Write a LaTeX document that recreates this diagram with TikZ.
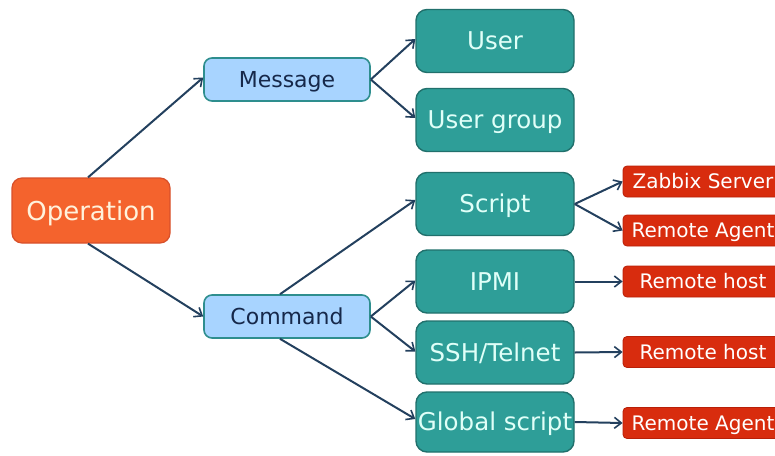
\documentclass[tikz,border=0pt]{standalone}
\usepackage{fontspec}
\setmainfont{DejaVu Sans}
\usetikzlibrary{arrows.meta}
\definecolor{opfill}{HTML}{F4632D}
\definecolor{opdraw}{HTML}{D8502A}
\definecolor{optext}{HTML}{FFF2DC}
\definecolor{bluefill}{HTML}{A8D4FF}
\definecolor{bluedraw}{HTML}{2E8E8E}
\definecolor{bluetext}{HTML}{16284A}
\definecolor{tealfill}{HTML}{2E9E98}
\definecolor{tealdraw}{HTML}{21706C}
\definecolor{tealtext}{HTML}{E0FFF8}
\definecolor{redfill}{HTML}{D82C0E}
\definecolor{reddraw}{HTML}{B82008}
\definecolor{linecol}{HTML}{23405E}
\tikzset{
  opbox/.style={text height=19pt, text depth=0pt, draw=opdraw, fill=opfill, line width=1.2pt, rounded corners=10pt, minimum width=158pt, minimum height=65pt, inner sep=0pt, text=optext, font=\fontsize{26}{30}\selectfont},
  bluebox/.style={text height=16pt, text depth=0pt, draw=bluedraw, fill=bluefill, line width=1.6pt, rounded corners=8pt, minimum width=166pt, minimum height=43pt, inner sep=0pt, text=bluetext, font=\fontsize{22}{26}\selectfont},
  tealbox/.style={text height=17.9pt, text depth=0pt, draw=tealdraw, fill=tealfill, line width=1.4pt, rounded corners=11pt, minimum width=158pt, minimum height=63pt, inner sep=0pt, text=tealtext, font=\fontsize{24.5}{29}\selectfont},
  redbox/.style={text height=14.6pt, text depth=0pt, draw=reddraw, fill=redfill, line width=0.8pt, rounded corners=4pt, minimum width=160pt, minimum height=31pt, inner sep=0pt, text=white, font=\fontsize{20}{24}\selectfont},
  conn/.style={draw=linecol, line width=2pt, -{Straight Barb[length=7pt,width=11pt,line width=1.6pt]}}
}
\begin{document}
\begin{tikzpicture}[x=1pt,y=-1pt]
\useasboundingbox (0,0) rectangle (775,455);
\clip (0,0) rectangle (775,455);
\node[opbox] (op) at (91,210.5) {Operation};
\node[bluebox] (msg) at (287,79.5) {Message};
\node[bluebox] (cmd) at (287,316.5) {Command};
\node[tealbox] (user) at (495,41) {User};
\node[tealbox] (ugroup) at (495,120) {User group};
\node[tealbox] (script) at (495,204) {Script};
\node[tealbox] (ipmi) at (495,281.5) {IPMI};
\node[tealbox] (ssh) at (495,352.5) {SSH/Telnet};
\node[tealbox,minimum height=60pt] (gscript) at (495,422) {Global script};
\node[redbox] (zab) at (703,181.5) {Zabbix Server};
\node[redbox] (ragent1) at (703,230.5) {Remote Agent};
\node[redbox] (rhost1) at (703,281.5) {Remote host};
\node[redbox] (rhost2) at (703,352) {Remote host};
\node[redbox] (ragent2) at (703,423) {Remote Agent};
\draw[conn] ([xshift=-3pt]op.north) -- ([yshift=2pt]msg.west);
\draw[conn] ([xshift=-3pt]op.south) -- (cmd.west);
\draw[conn] (msg.east) -- ([yshift=2pt]user.west);
\draw[conn] (msg.east) -- ([yshift=2pt]ugroup.west);
\draw[conn] ([xshift=-7pt]cmd.north) -- ([yshift=4pt]script.west);
\draw[conn] (cmd.east) -- ([yshift=1pt]ipmi.west);
\draw[conn] (cmd.east) -- ([yshift=1pt]ssh.west);
\draw[conn] ([xshift=-7pt]cmd.south) -- ([yshift=3pt]gscript.west);
\draw[conn] (script.east) -- (zab.west);
\draw[conn] (script.east) -- (ragent1.west);
\draw[conn] (ipmi.east) -- (rhost1.west);
\draw[conn] (ssh.east) -- (rhost2.west);
\draw[conn] (gscript.east) -- (ragent2.west);
\end{tikzpicture}
\end{document}
